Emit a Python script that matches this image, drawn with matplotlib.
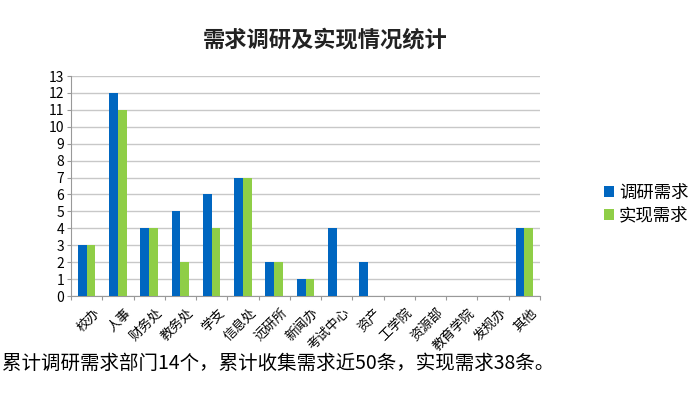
import numpy as np
import matplotlib.pyplot as plt

plt.rcParams['font.family'] = ['Noto Sans CJK SC', 'DejaVu Sans']

categories = ['校办', '人事', '财务处', '教务处', '学支', '信息处', '远研所', '新闻办',
              '考试中心', '资产', '工学院', '资源部', '教育学院', '发规办', '其他']
survey = [3, 12, 4, 5, 6, 7, 2, 1, 4, 2, 0, 0, 0, 0, 4]
done = [3, 11, 4, 2, 4, 7, 2, 1, 0, 0, 0, 0, 0, 0, 4]
series_names = ['调研需求', '实现需求']
colors = ['#0066c0', '#8fce47']

fig = plt.figure(figsize=(7, 3.99), dpi=100)
ax = fig.add_axes([71 / 700, 1 - 296 / 399, 469 / 700, 220 / 399])

x = np.arange(len(categories))
w = 0.28
ax.bar(x - w / 2, survey, w, color=colors[0], label=series_names[0], zorder=3)
ax.bar(x + w / 2, done, w, color=colors[1], label=series_names[1], zorder=3)

ax.set_xlim(-0.5, len(categories) - 0.5)
ax.set_ylim(0, 13)
ax.set_yticks(range(0, 14))
ax.tick_params(axis='y', labelsize=10, length=3, color='#999999', pad=2)
ax.grid(axis='y', color='#c8c8c8', linewidth=1, zorder=0)

ax.set_xticks(np.arange(-0.5, len(categories), 1), minor=False)
ax.set_xticklabels([])
ax.tick_params(axis='x', length=3, color='#999999')
for i, name in enumerate(categories):
    ax.text(i + 0.2, -0.6, name, rotation=45, ha='right', va='top',
            fontsize=9.5, rotation_mode='anchor')

for s in ['top', 'right']:
    ax.spines[s].set_visible(False)
ax.spines['left'].set_color('#999999')
ax.spines['bottom'].set_color('#999999')

fig.legend(loc='upper left', bbox_to_anchor=(588 / 700, 1 - 168 / 399),
           frameon=False, fontsize=12.5, handlelength=0.6, handleheight=0.6,
           handletextpad=0.3, labelspacing=0.3)

fig.text(325 / 700, 1 - 40 / 399, '需求调研及实现情况统计', ha='center', va='center',
         fontsize=16, fontweight='bold', color='#222222')
fig.text(2 / 700, 1 - 363 / 399, '累计调研需求部门14个，累计收集需求近50条，实现需求38条。',
         ha='left', va='center', fontsize=14)

fig.savefig('out.png', dpi=100)
